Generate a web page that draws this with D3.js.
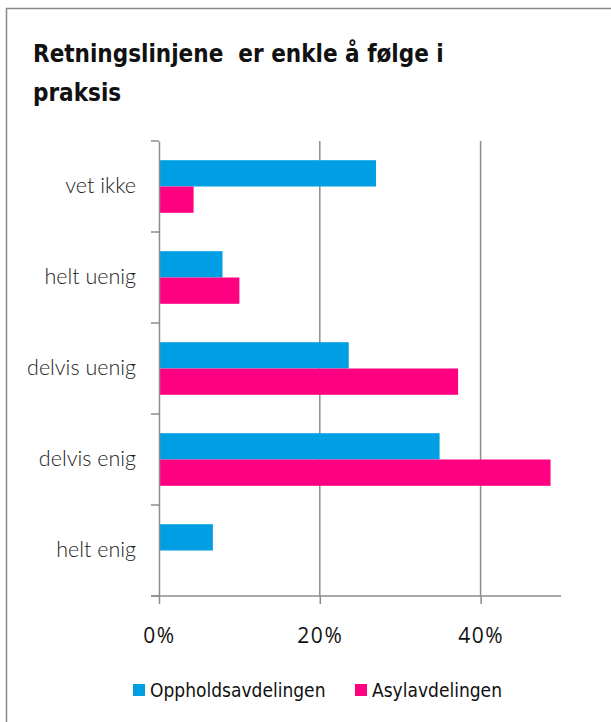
<!DOCTYPE html>
<html>
<head>
<meta charset="utf-8">
<script src="https://cdn.jsdelivr.net/npm/d3@7"></script>
<style>
  body { margin: 0; background: #fff; }
  svg text { font-family: "Open Sans", sans-serif; }
</style>
</head>
<body>
<script>
// Chart data
var categories = ["vet ikke", "helt uenig", "delvis uenig", "delvis enig", "helt enig"];
var seriesNames = ["Oppholdsavdelingen", "Asylavdelingen"];
var opphold = [27.0, 7.9, 23.6, 34.9, 6.7];
var asyl = [4.3, 10.0, 37.2, 48.7, 0];
var tickValues = [0, 20, 40];
var colors = ["#009fe3", "#ff0080"];

var W = 611, H = 722;
var margin = {top: 141, left: 159, right: 50, bottom: 126};

var svg = d3.select("body").append("svg")
    .attr("width", W)
    .attr("height", H);

// outer frame
svg.append("rect")
    .attr("x", 6.5).attr("y", 8.5)
    .attr("width", 640).attr("height", 740)
    .attr("fill", "none")
    .attr("stroke", "#8a8a8a")
    .attr("stroke-width", 1.5);

// title
var title = svg.append("text")
    .attr("x", 33)
    .style("font-family", "'DejaVu Sans Condensed', 'DejaVu Sans', sans-serif")
    .style("font-weight", "bold")
    .style("font-size", "24px")
    .style("white-space", "pre")
    .attr("fill", "#111");
title.append("tspan").attr("x", 33).attr("y", 62).text("Retningslinjene  er enkle å følge i");
title.append("tspan").attr("x", 33).attr("y", 101).text("praksis");

var x = d3.scaleLinear()
    .domain([0, 50])
    .range([margin.left, W - margin.right]);

var y = d3.scaleBand()
    .domain(categories)
    .range([margin.top, H - margin.bottom]);

var inner = d3.scaleBand()
    .domain(seriesNames)
    .range([0, y.bandwidth()])
    .paddingInner(0)
    .paddingOuter(0.73);

var g = svg.append("g");

// gridlines
g.selectAll(".grid")
    .data(tickValues.slice(1))
    .enter().append("line")
    .attr("x1", function(d) { return x(d); })
    .attr("x2", function(d) { return x(d); })
    .attr("y1", margin.top)
    .attr("y2", H - margin.bottom)
    .attr("stroke", "#8c8c8c")
    .attr("stroke-width", 1.5);

// bars
var rows = categories.map(function(c, i) {
  return {cat: c, vals: [opphold[i], asyl[i]]};
});

var grp = g.selectAll(".row")
    .data(rows)
    .enter().append("g")
    .attr("transform", function(d) { return "translate(0," + y(d.cat) + ")"; });

grp.selectAll("rect")
    .data(function(d) { return d.vals.map(function(v, j) { return {v: v, s: seriesNames[j], j: j}; }); })
    .enter().append("rect")
    .attr("x", x(0))
    .attr("y", function(d) { return inner(d.s); })
    .attr("width", function(d) { return x(d.v) - x(0); })
    .attr("height", inner.bandwidth())
    .attr("fill", function(d) { return colors[d.j]; });

// y axis
var yAxis = g.append("g")
    .attr("transform", "translate(" + x(0) + ",0)")
    .call(d3.axisLeft(y).tickSize(0).tickPadding(23));
yAxis.select(".domain").attr("stroke", "#8c8c8c").attr("stroke-width", 1.5);
yAxis.selectAll("text")
    .style("font-family", "Lato, sans-serif")
    .style("font-weight", "300")
    .style("font-size", "21.5px")
    .attr("fill", "#222");

// category boundary ticks
g.selectAll(".ytick")
    .data(categories.concat(["end"]))
    .enter().append("line")
    .attr("x1", x(0) - 8)
    .attr("x2", x(0))
    .attr("y1", function(d, i) { return margin.top + i * y.step(); })
    .attr("y2", function(d, i) { return margin.top + i * y.step(); })
    .attr("stroke", "#8c8c8c")
    .attr("stroke-width", 1.5);

// x axis
var xAxis = g.append("g")
    .attr("transform", "translate(0," + (H - margin.bottom) + ")")
    .call(d3.axisBottom(x).tickValues(tickValues).tickSize(8).tickPadding(24)
      .tickFormat(function(d) { return d + "%"; }));
xAxis.select(".domain").remove();
xAxis.append("line")
    .attr("x1", x(0) - 8).attr("x2", x(50))
    .attr("stroke", "#8c8c8c").attr("stroke-width", 1.5);
xAxis.selectAll(".tick line").attr("stroke", "#8c8c8c").attr("stroke-width", 1.5);
xAxis.selectAll("text")
    .style("font-family", "'Open Sans', sans-serif")
    .style("font-size", "21px")
    .style("letter-spacing", "1.5px")
    .attr("fill", "#111");

// legend
var legend = svg.append("g").attr("transform", "translate(0,690)");
var legX = [133, 355];
seriesNames.forEach(function(s, i) {
  legend.append("rect")
      .attr("x", legX[i]).attr("y", -6)
      .attr("width", 12).attr("height", 12)
      .attr("fill", colors[i]);
  legend.append("text")
      .attr("x", legX[i] + 17).attr("y", 7)
      .style("font-family", "'DejaVu Sans Condensed', sans-serif")
      .style("font-size", "19px")
      .attr("fill", "#111")
      .text(s);
});
</script>
</body>
</html>
